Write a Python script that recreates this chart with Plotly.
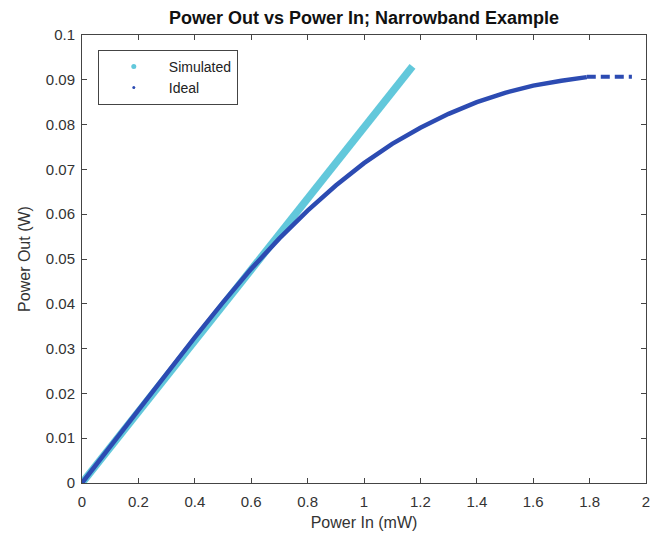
import plotly.graph_objects as go

# Data
sim_x = [0.0, 0.3, 0.6, 0.9, 1.172]
sim_y = [0.0, 0.0238, 0.0477, 0.0716, 0.0930]

ideal_x = [0.0, 0.1, 0.2, 0.3, 0.4, 0.5, 0.6, 0.7, 0.8, 0.9, 1.0, 1.1, 1.2, 1.3,
           1.4, 1.5, 1.6, 1.7, 1.79]
ideal_y = [0.0, 0.0082, 0.0164, 0.0245, 0.0325, 0.0403, 0.0478, 0.0546, 0.0608,
           0.0664, 0.0714, 0.0757, 0.0793, 0.0824, 0.0850, 0.0871, 0.0887,
           0.0898, 0.0906]
tail_x = [1.79, 1.95]
tail_y = [0.0907, 0.0907]

x_ticks = [0, 0.2, 0.4, 0.6, 0.8, 1, 1.2, 1.4, 1.6, 1.8, 2]
x_labels = ["0", "0.2", "0.4", "0.6", "0.8", "1", "1.2", "1.4", "1.6", "1.8", "2"]
y_ticks = [0, 0.01, 0.02, 0.03, 0.04, 0.05, 0.06, 0.07, 0.08, 0.09, 0.1]
y_labels = ["0", "0.01", "0.02", "0.03", "0.04", "0.05", "0.06", "0.07", "0.08", "0.09", "0.1"]

CYAN = "#62C8DB"
BLUE = "#2C4BB2"
FONT = "Liberation Sans, Arial, Helvetica"

fig = go.Figure()
fig.add_trace(go.Scatter(x=sim_x, y=sim_y, mode="lines",
                         line=dict(color=CYAN, width=7.5), showlegend=False))
fig.add_trace(go.Scatter(x=ideal_x, y=ideal_y, mode="lines",
                         line=dict(color=BLUE, width=4.5), showlegend=False))
fig.add_trace(go.Scatter(x=tail_x, y=tail_y, mode="lines",
                         line=dict(color=BLUE, width=4, dash="9px,5px"), showlegend=False))
# legend entries
fig.add_trace(go.Scatter(x=[None], y=[None], mode="markers", name="Simulated",
                         marker=dict(color=CYAN, size=5)))
fig.add_trace(go.Scatter(x=[None], y=[None], mode="markers", name="Ideal",
                         marker=dict(color=BLUE, size=3)))

axis_common = dict(showline=True, linecolor="#444", linewidth=1, mirror="ticks",
                   ticks="inside", ticklen=5, tickcolor="#444", showgrid=False,
                   zeroline=False, tickfont=dict(family=FONT, size=15, color="#333"))

fig.update_layout(
    width=651, height=532,
    margin=dict(l=74, r=9, t=27, b=57),
    paper_bgcolor="white", plot_bgcolor="white",
    title=dict(text="<b>Power Out vs Power In; Narrowband Example</b>",
               x=0.5, xanchor="center", xref="paper", y=1, yref="container",
               yanchor="top", pad=dict(t=3),
               font=dict(family=FONT, size=18, color="#111")),
    xaxis=dict(range=[0, 2], tickvals=x_ticks, ticktext=x_labels,
               ticklabelstandoff=5,
               title=dict(text="Power In (mW)", standoff=7,
                          font=dict(family=FONT, size=16, color="#333")),
               **axis_common),
    yaxis=dict(range=[0, 0.1], tickvals=y_ticks, ticktext=y_labels,
               ticklabelstandoff=3,
               title=dict(text="Power Out (W)", standoff=11,
                          font=dict(family=FONT, size=16, color="#333")),
               **axis_common),
    legend=dict(x=0.028, y=0.967, xanchor="left", yanchor="top",
                bordercolor="#444", borderwidth=1, bgcolor="white",
                font=dict(family=FONT, size=14, color="#222"),
                itemwidth=60, tracegroupgap=0),
)

fig.write_html("out.html")
